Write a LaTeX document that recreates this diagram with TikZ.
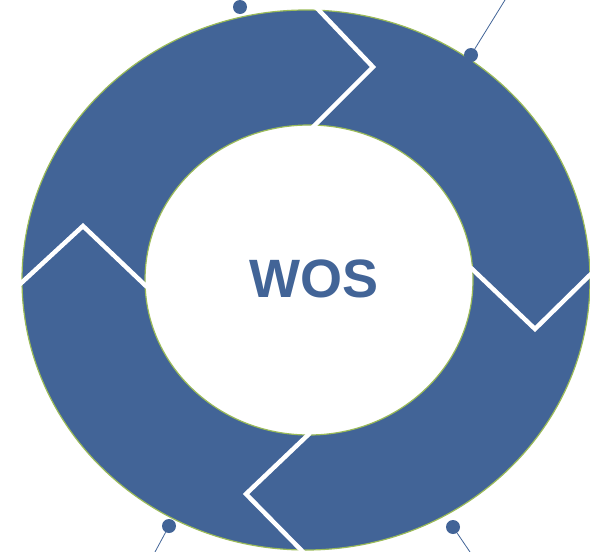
\documentclass[tikz,border=0pt]{standalone}
\usepackage{fontspec}
\setmainfont{Liberation Sans}
\usepackage{xcolor}
\definecolor{wosblue}{RGB}{66,100,151}
\definecolor{wosgreen}{RGB}{155,187,89}

\begin{document}
\begin{tikzpicture}[x=1pt, y=-1pt,
  dot/.style={circle, fill=wosblue, inner sep=0pt, minimum size=14pt},
  cut/.style={white, line width=4.5pt, line join=miter}]
\useasboundingbox (0,0) rectangle (590,552);
% кольцо
\fill [wosblue, even odd rule] (306,280) ellipse [x radius=284, y radius=270]
  (309,280) ellipse [x radius=164, y radius=155];
\draw [wosgreen, line width=1.2pt] (306,280) ellipse [x radius=284, y radius=270];
\draw [wosgreen, line width=1.2pt] (309,280) ellipse [x radius=164, y radius=155];
% разделители
\draw [cut] (313,4) -- (373,67) -- (311,129);
\draw [cut] (470,267) -- (535,329) -- (594,271);
\draw [cut] (310,433) -- (246,494) -- (306,555);
\draw [cut] (18,286) -- (83,226) -- (147,287);
% точки
\node [dot] (d1) at (240,7) {};
\node [dot] (d2) at (471,55) {};
\node [dot] (d3) at (169,526) {};
\node [dot] (d4) at (453,527) {};
\coordinate (e2) at (505,0);
\coordinate (e3) at (155,552);
\coordinate (e4) at (470,552);
\draw [wosblue, line width=0.8pt] (d2) -- (e2);
\draw [wosblue, line width=0.8pt] (d3) -- (e3);
\draw [wosblue, line width=0.8pt] (d4) -- (e4);
% подпись
\node [wosblue, font=\fontsize{54}{60}\selectfont\bfseries] (wos) at (314,279) {WOS};
\end{tikzpicture}
\end{document}
